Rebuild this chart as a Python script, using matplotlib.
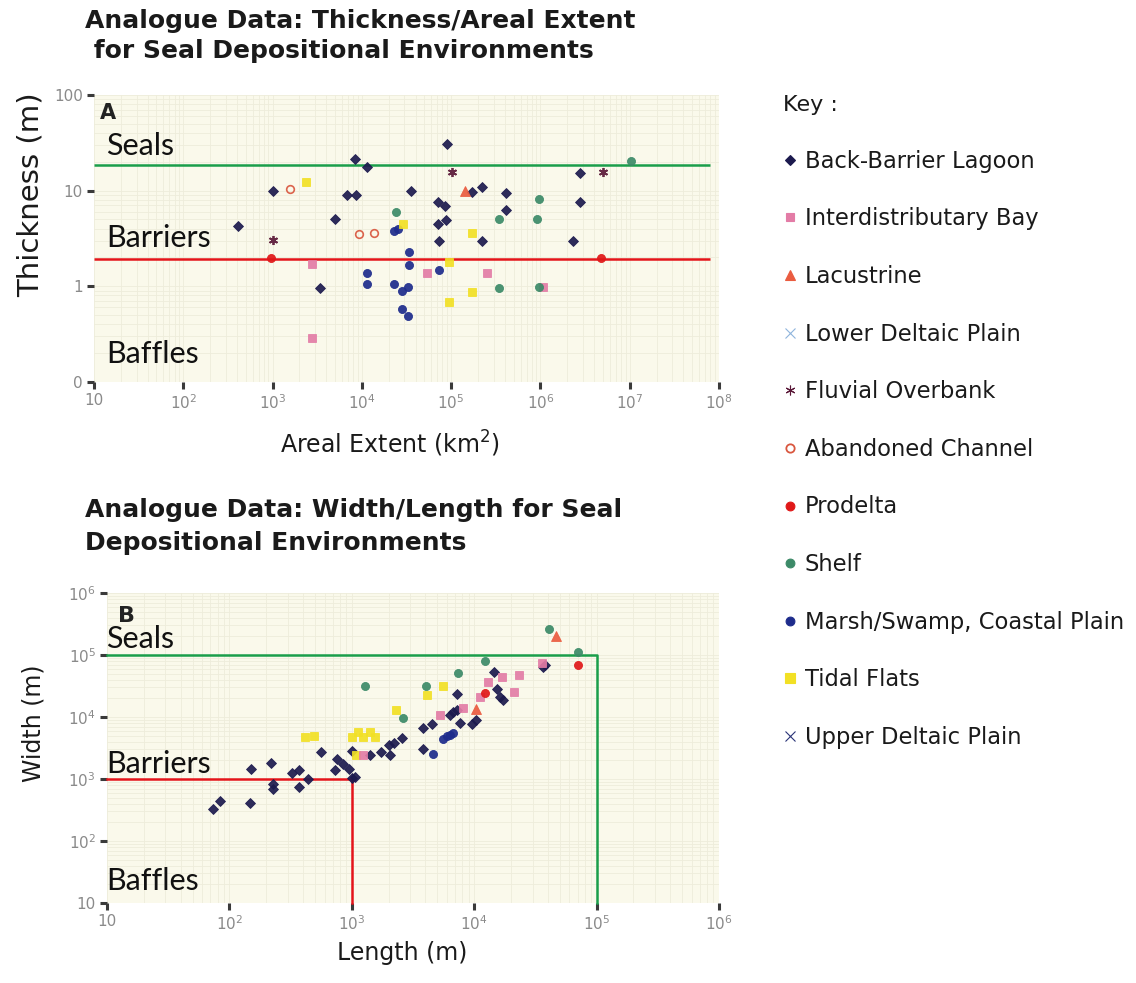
import matplotlib
matplotlib.use("Agg")
import matplotlib.pyplot as plt
from matplotlib.lines import Line2D
from matplotlib.ticker import FixedLocator, FixedFormatter, LogLocator, NullFormatter

# ---------------- series (legend order) ----------------
SERIES = ["Back-Barrier Lagoon", "Interdistributary Bay", "Lacustrine",
          "Lower Deltaic Plain", "Fluvial Overbank", "Abandoned Channel",
          "Prodelta", "Shelf", "Marsh/Swamp, Coastal Plain", "Tidal Flats",
          "Upper Deltaic Plain"]

# ---------------- Panel A: areal extent (km2) vs thickness (m) ----------------
a_bbl_area = [406, 8.9e4, 8.3e3, 1.13e4, 1000, 6760, 8600, 3.55e4, 1.7e5, 2.24e5,
              5000, 3400, 7.2e4, 8.5e4, 7.07e4, 8.75e4, 7.36e4, 2.23e5, 2.77e6,
              4.1e5, 4.1e5, 2.77e6, 2.33e6]
a_bbl_thick = [4.25, 31, 21.2, 17.6, 9.8, 8.9, 8.9, 10.0, 9.6, 10.9,
               4.99, 0.96, 7.6, 6.9, 4.49, 4.95, 2.94, 2.94, 15.4,
               9.4, 6.2, 7.6, 2.94]
a_marsh_area = [2.29e4, 2.56e4, 1.13e4, 1.13e4, 2.29e4, 2.79e4, 3.26e4, 2.79e4,
                3.26e4, 3.37e4, 3.37e4, 7.3e4]
a_marsh_thick = [3.74, 3.98, 1.38, 1.06, 1.06, 0.88, 0.98, 0.58, 0.485, 2.27, 1.67, 1.46]
a_bay_area = [2740, 2740, 5.3e4, 2.5e5, 1.07e6]
a_bay_thick = [1.71, 0.29, 1.38, 1.38, 0.98]
a_lac_area = [1.43e5]
a_lac_thick = [9.8]
a_fluv_area = [1.01e5, 1000, 5.05e6]
a_fluv_thick = [15.6, 3.05, 15.6]
a_aband_area = [1567, 9350, 1.38e4]
a_aband_thick = [10.3, 3.53, 3.59]
a_pro_area = [955, 4.76e6]
a_pro_thick = [1.96, 1.96]
a_shelf_area = [2.39e4, 1.03e7, 9.7e5, 3.46e5, 9.06e5, 3.46e5, 9.7e5]
a_shelf_thick = [5.96, 20.4, 8.2, 5.0, 5.0, 0.96, 0.98]
a_tidal_area = [2366, 2.9e4, 9.4e4, 9.4e4, 1.7e5, 1.7e5]
a_tidal_thick = [12.3, 4.49, 1.81, 0.68, 3.59, 0.865]

# ---------------- Panel B: length (m) vs width (m) ----------------
b_bbl_len = [73, 84, 147, 150, 217, 226, 226, 323, 372, 372, 442, 560, 753, 843,
             730, 955, 1000, 1060, 998, 1409, 1722, 2050, 2015, 2213, 2590, 3840,
             4500, 3790, 6340, 6750, 7200, 7200, 7660, 9550, 10350, 14500, 15400,
             16300, 17100, 37800, 36600]
b_bbl_wid = [331, 440, 414, 1435, 1835, 840, 697, 1250, 1380, 741, 1010, 2735, 2130,
             1770, 1380, 1435, 1040, 1060, 2800, 2470, 2735, 2470, 3510, 3870, 4600,
             6680, 7850, 3090, 10700, 12100, 12900, 23100, 8050, 7850, 8900, 52500,
             28200, 21200, 18700, 69200, 64900]
b_tidal_len = [415, 494, 998, 1117, 1242, 1409, 1549, 1081, 2296, 4140, 5530]
b_tidal_wid = [4790, 4960, 4790, 5750, 4790, 5750, 4790, 2420, 12900, 22600, 32000]
b_bay_len = [1227, 5260, 8050, 11100, 13000, 16800, 21300, 23400, 35500]
b_bay_wid = [2420, 10700, 14100, 21200, 37200, 44700, 24900, 47700, 73500]
b_shelf_len = [1290, 2634, 4040, 7330, 12200, 41100, 70200]
b_shelf_wid = [31600, 9700, 32000, 50600, 80400, 260000, 113000]
b_marsh_len = [4630, 5530, 6000, 6400, 6750]
b_marsh_wid = [2570, 4500, 4900, 5200, 5500]
b_lac_len = [10350, 46600]
b_lac_wid = [13700, 206000]
b_pro_len = [12200, 71000]
b_pro_wid = [24000, 69200]

# Threshold values (m)
A_SEAL, A_BARRIER = 18.7, 1.93
B_SEAL, B_BARRIER = 1e5, 1e3

# tick labels
A_XTICKS = [10, 1e2, 1e3, 1e4, 1e5, 1e6, 1e7, 1e8]
A_XLABELS = ["10", "$10^2$", "$10^3$", "$10^4$", "$10^5$", "$10^6$", "$10^7$", "$10^8$"]
A_YTICKS = [0.1, 1, 10, 100]
A_YLABELS = ["0", "1", "10", "100"]
B_TICKS = [10, 1e2, 1e3, 1e4, 1e5, 1e6]
B_LABELS = ["10", "$10^2$", "$10^3$", "$10^4$", "$10^5$", "$10^6$"]

# ---------------- styles ----------------
STYLE = {
    "Back-Barrier Lagoon": dict(marker="D", color="#1c1a4e", size=5.0),
    "Interdistributary Bay": dict(marker="s", color="#e37ca6", size=5.5),
    "Lacustrine": dict(marker="^", color="#ea5c40", size=6.5),
    "Lower Deltaic Plain": dict(marker="x", color="#8fb4dc", size=6.0),
    "Fluvial Overbank": dict(marker=(6, 2, 0), color="#5a1838", size=6.5),
    "Abandoned Channel": dict(marker="o", color="#d9573f", size=5.5, hollow=True),
    "Prodelta": dict(marker="o", color="#e01818", size=5.8),
    "Shelf": dict(marker="o", color="#3c8a68", size=5.8),
    "Marsh/Swamp, Coastal Plain": dict(marker="o", color="#1e2c8c", size=5.8),
    "Tidal Flats": dict(marker="s", color="#f2e024", size=6.0),
    "Upper Deltaic Plain": dict(marker="x", color="#2a3478", size=6.0),
}

GREEN = "#1a9e4a"
RED = "#e4141a"
TICKC = "#8a8a8a"
FACE = "#faf9eb"


def scatter(ax, name, xs, ys):
    st = STYLE[name]
    hollow = st.get("hollow", False)
    thick = 1.2 if hollow else (1.3 if name == "Fluvial Overbank" else 0.6)
    ax.plot(xs, ys, linestyle="none", marker=st["marker"], markersize=st["size"],
            markerfacecolor="none" if hollow else st["color"],
            markeredgecolor=st["color"], markeredgewidth=thick,
            alpha=0.92, zorder=4)


def style_axes(ax):
    ax.set_xscale("log")
    ax.set_yscale("log")
    ax.set_facecolor(FACE)
    for sp in ax.spines.values():
        sp.set_visible(False)
    ax.xaxis.set_minor_locator(LogLocator(base=10, subs=range(2, 10), numticks=20))
    ax.yaxis.set_minor_locator(LogLocator(base=10, subs=range(2, 10), numticks=20))
    ax.xaxis.set_minor_formatter(NullFormatter())
    ax.yaxis.set_minor_formatter(NullFormatter())
    ax.grid(which="both", color="#eeecdb", linewidth=0.6, zorder=0)
    ax.set_axisbelow(True)
    ax.tick_params(which="minor", length=0)
    ax.tick_params(which="major", direction="out", length=5, width=2.2,
                   color="#3a3a3a", labelcolor=TICKC, labelsize=11, pad=3)


fig = plt.figure(figsize=(11.36, 9.83), dpi=100)
W, H = 1136.0, 983.0

# ---------------- Panel A ----------------
axA = fig.add_axes([94 / W, 1 - 381.7 / H, 625 / W, 286.7 / H])
style_axes(axA)
axA.set_xlim(10, 1e8)
axA.set_ylim(0.1, 100)
axA.xaxis.set_major_locator(FixedLocator(A_XTICKS))
axA.xaxis.set_major_formatter(FixedFormatter(A_XLABELS))
axA.yaxis.set_major_locator(FixedLocator(A_YTICKS))
axA.yaxis.set_major_formatter(FixedFormatter(A_YLABELS))

axA.hlines(A_SEAL, 10, 10 ** 7.9, color=GREEN, lw=1.8, zorder=3)
axA.hlines(A_BARRIER, 10, 10 ** 7.9, color=RED, lw=1.8, zorder=3)

scatter(axA, "Back-Barrier Lagoon", a_bbl_area, a_bbl_thick)
scatter(axA, "Marsh/Swamp, Coastal Plain", a_marsh_area, a_marsh_thick)
scatter(axA, "Interdistributary Bay", a_bay_area, a_bay_thick)
scatter(axA, "Lacustrine", a_lac_area, a_lac_thick)
scatter(axA, "Fluvial Overbank", a_fluv_area, a_fluv_thick)
scatter(axA, "Abandoned Channel", a_aband_area, a_aband_thick)
scatter(axA, "Prodelta", a_pro_area, a_pro_thick)
scatter(axA, "Shelf", a_shelf_area, a_shelf_thick)
scatter(axA, "Tidal Flats", a_tidal_area, a_tidal_thick)

axA.set_xlabel("Areal Extent (km$^2$)", fontsize=17, color="#1a1a1a")
axA.xaxis.set_label_coords(0.474, -0.165)
axA.set_ylabel("Thickness (m)", fontsize=21, color="#1a1a1a")
axA.yaxis.set_label_coords(-0.079, 0.651)

zone_font = dict(family=["Lato", "DejaVu Sans"], fontsize=22, color="#111111")
axA.text(0.019, 0.791, "Seals", transform=axA.transAxes, va="baseline", **zone_font)
axA.text(0.019, 0.471, "Barriers", transform=axA.transAxes, va="baseline", **zone_font)
axA.text(0.019, 0.064, "Baffles", transform=axA.transAxes, va="baseline", **zone_font)
axA.text(0.0096, 0.916, "A", transform=axA.transAxes, va="baseline",
         fontsize=15, fontweight="bold", color="#222222")

# ---------------- Panel B ----------------
axB = fig.add_axes([107 / W, 1 - 903 / H, 612 / W, 310 / H])
style_axes(axB)
axB.set_xlim(10, 1e6)
axB.set_ylim(10, 1e6)
axB.xaxis.set_major_locator(FixedLocator(B_TICKS))
axB.xaxis.set_major_formatter(FixedFormatter(B_LABELS))
axB.yaxis.set_major_locator(FixedLocator(B_TICKS))
axB.yaxis.set_major_formatter(FixedFormatter(B_LABELS))

axB.plot([10, B_SEAL, B_SEAL], [B_SEAL, B_SEAL, 10], color=GREEN, lw=1.8,
         zorder=3, clip_on=False)
axB.plot([10, B_BARRIER, B_BARRIER], [B_BARRIER, B_BARRIER, 10], color=RED, lw=1.8,
         zorder=3, clip_on=False)

scatter(axB, "Back-Barrier Lagoon", b_bbl_len, b_bbl_wid)
scatter(axB, "Tidal Flats", b_tidal_len, b_tidal_wid)
scatter(axB, "Interdistributary Bay", b_bay_len, b_bay_wid)
scatter(axB, "Shelf", b_shelf_len, b_shelf_wid)
scatter(axB, "Marsh/Swamp, Coastal Plain", b_marsh_len, b_marsh_wid)
scatter(axB, "Lacustrine", b_lac_len, b_lac_wid)
scatter(axB, "Prodelta", b_pro_len, b_pro_wid)

axB.set_xlabel("Length (m)", fontsize=17, color="#1a1a1a")
axB.xaxis.set_label_coords(0.482, -0.123)
axB.set_ylabel("Width (m)", fontsize=17, color="#1a1a1a")
axB.yaxis.set_label_coords(-0.101, 0.581)

axB.text(-0.002, 0.822, "Seals", transform=axB.transAxes, va="baseline", **zone_font)
axB.text(-0.002, 0.42, "Barriers", transform=axB.transAxes, va="baseline", **zone_font)
axB.text(-0.002, 0.042, "Baffles", transform=axB.transAxes, va="baseline", **zone_font)
axB.text(0.018, 0.906, "B", transform=axB.transAxes, va="baseline",
         fontsize=16, fontweight="bold", color="#222222")

# ---------------- titles ----------------
fig.text(85 / W, 1 - 9 / H,
         "Analogue Data: Thickness/Areal Extent\n for Seal Depositional Environments",
         ha="left", va="top", fontsize=18, fontweight="bold", color="#1a1a1a",
         linespacing=1.3)
fig.text(85 / W, 1 - 498 / H,
         "Analogue Data: Width/Length for Seal\nDepositional Environments",
         ha="left", va="top", fontsize=18, fontweight="bold", color="#1a1a1a",
         linespacing=1.45)

# ---------------- key ----------------
handles = []
for name in SERIES:
    st = STYLE[name]
    hollow = st.get("hollow", False)
    handles.append(Line2D([], [], linestyle="none", marker=st["marker"],
                          markersize=st["size"] + 0.5,
                          markerfacecolor="none" if hollow else st["color"],
                          markeredgecolor=st["color"],
                          markeredgewidth=1.3 if hollow else 0.8))
leg = fig.legend(handles, SERIES, loc="upper left",
                 bbox_to_anchor=(783 / W, 1 - 95 / H), frameon=False,
                 title="Key :", alignment="left", fontsize=16.3, title_fontsize=16,
                 handlelength=0.6, handletextpad=0.35, labelspacing=1.53,
                 borderaxespad=0, borderpad=0)
for t in leg.get_texts():
    t.set_color("#1a1a1a")
leg.get_title().set_color("#1a1a1a")

fig.savefig("out.png", dpi=100, facecolor="white")
